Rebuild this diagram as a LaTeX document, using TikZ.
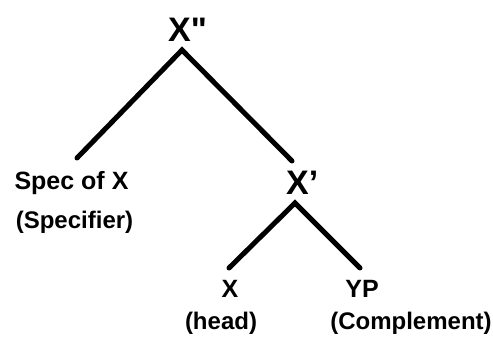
\documentclass[tikz,border=0pt]{standalone}
\usepackage{fontspec}
\setmainfont{Liberation Sans}

\tikzset{
  cat/.style={font=\bfseries\fontsize{34}{40}\selectfont, inner sep=0pt},
  leaf/.style={font=\bfseries\fontsize{25}{30}\selectfont, inner sep=0pt, anchor=base},
  note/.style={font=\bfseries\fontsize{24}{28}\selectfont, inner sep=0pt, anchor=base},
  branch/.style={line width=5pt, line cap=round}
}

\begin{document}
\begin{tikzpicture}[x=1pt,y=-1pt]
  \useasboundingbox (0,0) rectangle (493,339);
  % top level
  \node[cat, anchor=base west] (xtwo) at (168,42) {X\textquotedbl};
  \node[leaf] (spec) at (71.5,190) {Spec of X};
  \node[note] (specnote) at (74.5,229) {(Specifier)};
  \node[cat, anchor=base west] (xone) at (286,195) {X'};
  % lower level
  \node[leaf] (xhead) at (230,298) {X};
  \node[leaf] (yp) at (362,298) {YP};
  \node[note] (headnote) at (221,330) {(head)};
  \node[note] (compnote) at (411,330) {(Complement)};
  % branches
  \draw[branch] ([shift={(5.5,-32)}]spec.base) -- ([shift={(14,8)}]xtwo.base west)
                -- ([shift={(6,-34)}]xone.base west);
  \draw[branch] ([shift={(-1,-30)}]xhead.base) -- ([shift={(9,8)}]xone.base west)
                -- ([shift={(-2,-30)}]yp.base);
\end{tikzpicture}
\end{document}
